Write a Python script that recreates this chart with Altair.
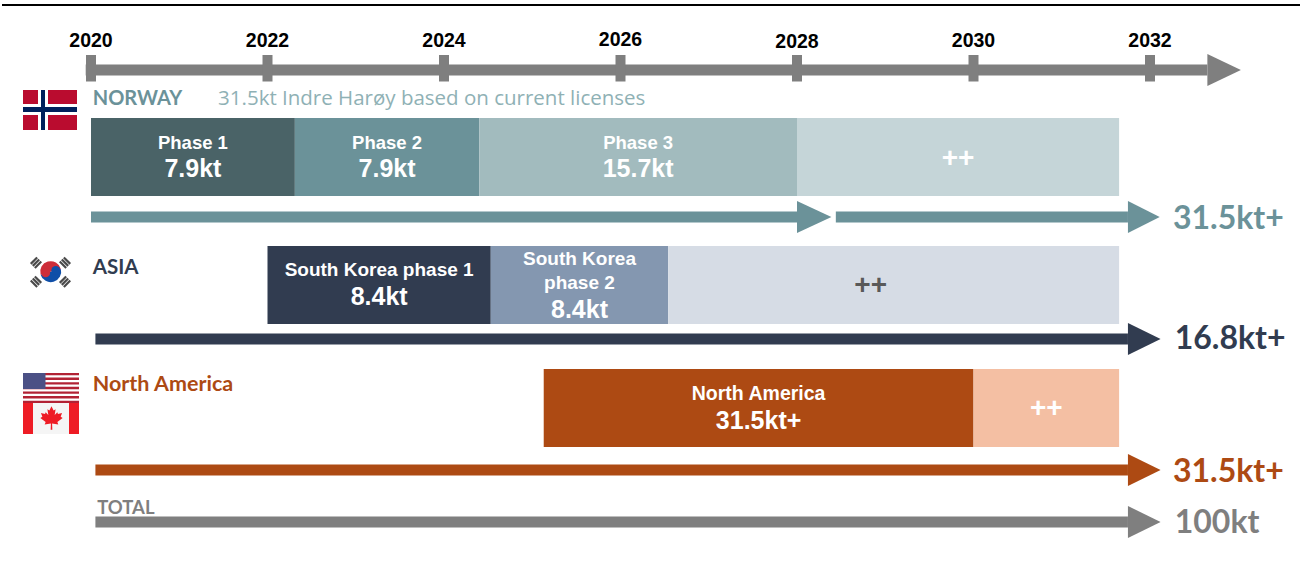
import altair as alt
import pandas as pd

W, H = 1300, 568
PX_PER_YEAR = 88.25
YEAR_MIN = 2020 - 91 / PX_PER_YEAR
YEAR_MAX = YEAR_MIN + W / PX_PER_YEAR

ARIAL = "Liberation Sans"
GOTHIC = "Lato"
GOTHIC_LIGHT = "Open Sans"

GREY = "#7f7f7f"
TEAL = "#6b9299"
NAVY = "#313c50"
RUST = "#ad4a13"

# Timeline
years = [2020, 2022, 2024, 2026, 2028, 2030, 2032]
year_label_y = [41, 41, 41, 40, 42, 41, 41]
timeline_end = 2032.65
timeline_tip = 2033.03

# Capacity phases per region: start year, end year, fill, vertical band
bar_start = [2020.0, 2022.31, 2024.40, 2028.0, 2022.0, 2024.53, 2026.54, 2025.13, 2030.0]
bar_end = [2022.31, 2024.40, 2028.0, 2031.65, 2024.53, 2026.54, 2031.65, 2030.0, 2031.65]
bar_top = [118, 118, 118, 118, 246, 246, 246, 369, 369]
bar_bottom = [196, 196, 196, 196, 324, 324, 324, 447, 447]
bar_fill = ["#4a6367", "#6b9299", "#a2bbbe", "#c5d5d8", "#313c50", "#8497b0", "#d6dce5", "#ad4a13", "#f4bfa3"]

# Lines of text per bar: bar index, text, y, size, colour, horizontal shift
bar_text = [
    (0, "Phase 1", 143, 18.5, "white", 0),
    (0, "7.9kt", 169, 25, "white", 0),
    (1, "Phase 2", 143, 18.5, "white", 0),
    (1, "7.9kt", 169, 25, "white", 0),
    (2, "Phase 3", 143, 18.5, "white", 0),
    (2, "15.7kt", 169, 25, "white", 0),
    (3, "++", 159, 28, "white", 0),
    (4, "South Korea phase 1", 270, 19, "white", 0),
    (4, "8.4kt", 297, 25, "white", 0),
    (5, "South Korea", 259, 19, "white", 0),
    (5, "phase 2", 283, 19, "white", 0),
    (5, "8.4kt", 310, 25, "white", 0),
    (6, "++", 286, 28, "#595959", -23),
    (7, "North America", 394, 19.5, "white", 0),
    (7, "31.5kt+", 421, 25, "white", 0),
    (8, "++", 409, 28, "white", 0),
]

# Cumulative arrows: start year, head base year, tip year, centre line, colour
arrow_start = [2020.0, 2028.44, 2020.05, 2020.05, 2020.05]
arrow_base = [2028.0, 2031.75, 2031.75, 2031.75, 2031.75]
arrow_tip = [2028.39, 2032.11, 2032.12, 2032.12, 2032.12]
arrow_y = [217, 217, 339, 470, 522]
arrow_color = [TEAL, TEAL, NAVY, RUST, GREY]

# Totals at the end of each arrow
total_text = ["31.5kt+", "16.8kt+", "31.5kt+", "100kt"]
total_year = [2032.26, 2032.28, 2032.26, 2032.28]
total_y = [219, 339, 472, 523]
total_color = [TEAL, NAVY, RUST, GREY]

# Region headings: text, year, y, size, weight, colour, font
headings = [
    ("NORWAY", 2020.02, 99, 20, "bold", TEAL, GOTHIC),
    ("ASIA", 2020.02, 268, 20.5, "bold", NAVY, GOTHIC),
    ("North America", 2020.02, 385, 21.5, "bold", RUST, GOTHIC),
    ("TOTAL", 2020.07, 508, 18.5, "bold", GREY, GOTHIC),
    ("31.5kt Indre Harøy based on current licenses", 2021.44, 99, 20.5, "normal", "#8fb1b5", GOTHIC_LIGHT),
]

X = alt.X("x:Q", scale=alt.Scale(domain=[YEAR_MIN, YEAR_MAX], range=[0, W]), axis=None)
Y = alt.Y("y:Q", scale=None, axis=None)
COLOR = alt.Color("c:N", scale=None, legend=None)


def year_rects(rows):
    return alt.Chart(pd.DataFrame(rows)).mark_bar().encode(
        x=X, x2=alt.X2("x2:Q"), y=Y, y2=alt.Y2("y2:Q"), color=COLOR
    )


def labels(rows, align, font, weight):
    return alt.Chart(pd.DataFrame(rows)).mark_text(
        align=align, baseline="middle", font=font, fontWeight=weight
    ).encode(
        x=X, y=Y, text="t:N", color=COLOR,
        size=alt.Size("s:Q", scale=None, legend=None),
    )


layers = []

# Rule across the top of the slide
layers.append(year_rects([dict(x=YEAR_MIN + 2 / PX_PER_YEAR, x2=YEAR_MAX, y=4, y2=6, c="black")]))

# Timeline shaft, head and year ticks
layers.append(year_rects([dict(x=2019.94, x2=timeline_end, y=64.5, y2=75.5, c=GREY)]))
layers.append(
    alt.Chart(pd.DataFrame([
        dict(x=timeline_end, y=54, y2=86, id=0),
        dict(x=timeline_tip, y=70, y2=70, id=0),
    ])).mark_area(color=GREY, orient="vertical").encode(
        x=X, y=Y, y2=alt.Y2("y2:Q"), detail="id:N"
    )
)
layers.append(
    alt.Chart(pd.DataFrame({"x": years, "y": [55] * 7, "y2": [81.5] * 7})).mark_rule(
        color=GREY, strokeWidth=10
    ).encode(x=X, y=Y, y2=alt.Y2("y2:Q"))
)
layers.append(labels(
    [dict(x=yr, y=ly, t=str(yr), s=19.5, c="black") for yr, ly in zip(years, year_label_y)],
    "center", ARIAL, "bold",
))

# Phase bars
layers.append(year_rects([
    dict(x=a, x2=b, y=t, y2=u, c=f)
    for a, b, t, u, f in zip(bar_start, bar_end, bar_top, bar_bottom, bar_fill)
]))
layers.append(labels(
    [
        dict(x=(bar_start[i] + bar_end[i]) / 2 + dx / PX_PER_YEAR, y=y, t=t, s=s, c=c)
        for i, t, y, s, c, dx in bar_text
    ],
    "center", ARIAL, "bold",
))

# Arrow shafts and heads
layers.append(year_rects([
    dict(x=a, x2=b, y=y - 5.5, y2=y + 5.5, c=c)
    for a, b, y, c in zip(arrow_start, arrow_base, arrow_y, arrow_color)
]))
head_rows = []
for i, (b, tip, y, c) in enumerate(zip(arrow_base, arrow_tip, arrow_y, arrow_color)):
    head_rows.append(dict(x=b, y=y - 16, y2=y + 16, id=i, c=c))
    head_rows.append(dict(x=tip, y=y, y2=y, id=i, c=c))
layers.append(
    alt.Chart(pd.DataFrame(head_rows)).mark_area(orient="vertical").encode(
        x=X, y=Y, y2=alt.Y2("y2:Q"), detail="id:N", color=COLOR
    )
)

# Totals and headings
layers.append(labels(
    [dict(x=x, y=y, t=t, s=32, c=c) for t, x, y, c in zip(total_text, total_year, total_y, total_color)],
    "left", GOTHIC, "bold",
))
for font, weight in ((GOTHIC, "bold"), (GOTHIC_LIGHT, "normal")):
    layers.append(labels(
        [dict(x=x, y=y, t=t, s=s, c=c) for t, x, y, s, w, c, f in headings if f == font],
        "left", font, weight,
    ))

# Flags are drawn in screen units on their own pixel scale
PX = alt.X("x:Q", scale=None, axis=None)


def flag_rects(rows):
    return alt.Chart(pd.DataFrame(rows, columns=["x", "x2", "y", "y2", "c"])).mark_bar().encode(
        x=PX, x2=alt.X2("x2:Q"), y=Y, y2=alt.Y2("y2:Q"), color=COLOR
    )


norway = [
    (23, 77, 90, 130, "#ba0c2f"),
    (38, 48, 90, 130, "#ffffff"),
    (23, 77, 104, 115, "#ffffff"),
    (41, 45, 90, 130, "#00205b"),
    (23, 77, 107, 112, "#00205b"),
]
usa = [(23, 79, 373, 403, "#ffffff")]
for k in range(7):
    top = 373 + k * 30 / 13 * 2
    usa.append((23, 79, top, top + 30 / 13, "#b22234"))
usa.append((23, 45.5, 373, 389, "#4b5085"))
canada = [
    (23, 79, 403, 434, "#f5f5f5"),
    (23, 33, 403, 434, "#ee1c25"),
    (69, 79, 403, 434, "#ee1c25"),
]
layers.append(flag_rects(norway + usa + canada))

MAPLE = (
    "M0,-1 L0.18,-0.65 L0.35,-0.75 L0.27,-0.25 L0.5,-0.5 L0.55,-0.35 L0.9,-0.42 L0.78,-0.1 "
    "L0.95,0 L0.5,0.35 L0.58,0.55 L0.05,0.47 L0.07,1 L-0.07,1 L-0.05,0.47 L-0.58,0.55 "
    "L-0.5,0.35 L-0.95,0 L-0.78,-0.1 L-0.9,-0.42 L-0.55,-0.35 L-0.5,-0.5 L-0.27,-0.25 "
    "L-0.35,-0.75 L-0.18,-0.65 Z"
)
layers.append(
    alt.Chart(pd.DataFrame({"x": [51.5], "y": [418]})).mark_point(
        shape=MAPLE, filled=True, opacity=1, color="#ee1c25", size=550
    ).encode(x=PX, y=Y)
)

# South Korean flag: taegeuk and trigrams
KX, KY = 50.7, 271.7
layers.append(
    alt.Chart(pd.DataFrame({"x": [KX], "y": [KY], "a": [-1.85], "b": [1.3], "c": ["#cd2e3a"]})).mark_arc(
        outerRadius=10.5
    ).encode(x=PX, y=Y, theta=alt.Theta("a:Q", scale=None), theta2=alt.Theta2("b:Q"), color=COLOR)
)
layers.append(
    alt.Chart(pd.DataFrame({"x": [KX], "y": [KY], "a": [1.3], "b": [4.43], "c": ["#0f4fa8"]})).mark_arc(
        outerRadius=10.5
    ).encode(x=PX, y=Y, theta=alt.Theta("a:Q", scale=None), theta2=alt.Theta2("b:Q"), color=COLOR)
)
layers.append(
    alt.Chart(pd.DataFrame({
        "x": [KX - 5.1, KX + 5.1], "y": [KY + 1.2, KY - 1.2], "c": ["#cd2e3a", "#0f4fa8"],
    })).mark_circle(size=80, opacity=1).encode(x=PX, y=Y, color=COLOR)
)
strokes = []
for cx, cy, sx, sy in [(36, 262.7, 1, -1), (65, 262.7, -1, -1), (36, 281.7, 1, 1), (65, 281.7, -1, 1)]:
    # Each trigram is three short strokes running tangent to the taegeuk
    for off in (-2.9, 0, 2.9):
        mx = cx + off * 0.707 * sx
        my = cy - off * 0.707 * sy
        strokes.append(dict(
            x=mx - 3.2 * sx, x2=mx + 3.2 * sx,
            y=my - 3.2 * sy, y2=my + 3.2 * sy,
        ))
layers.append(
    alt.Chart(pd.DataFrame(strokes)).mark_rule(color="#4a4a4a", strokeWidth=2.2).encode(
        x=PX, x2=alt.X2("x2:Q"), y=Y, y2=alt.Y2("y2:Q")
    )
)

chart = (
    alt.layer(*layers)
    .resolve_scale(x="independent", y="independent", color="independent", size="independent", theta="independent")
    .properties(
        width=W, height=H, padding=0,
        autosize=alt.AutoSizeParams(type="none"), background="white",
    )
    .configure_view(stroke=None)
)

chart.save("out.html", embed_options={"renderer": "svg", "actions": False})
